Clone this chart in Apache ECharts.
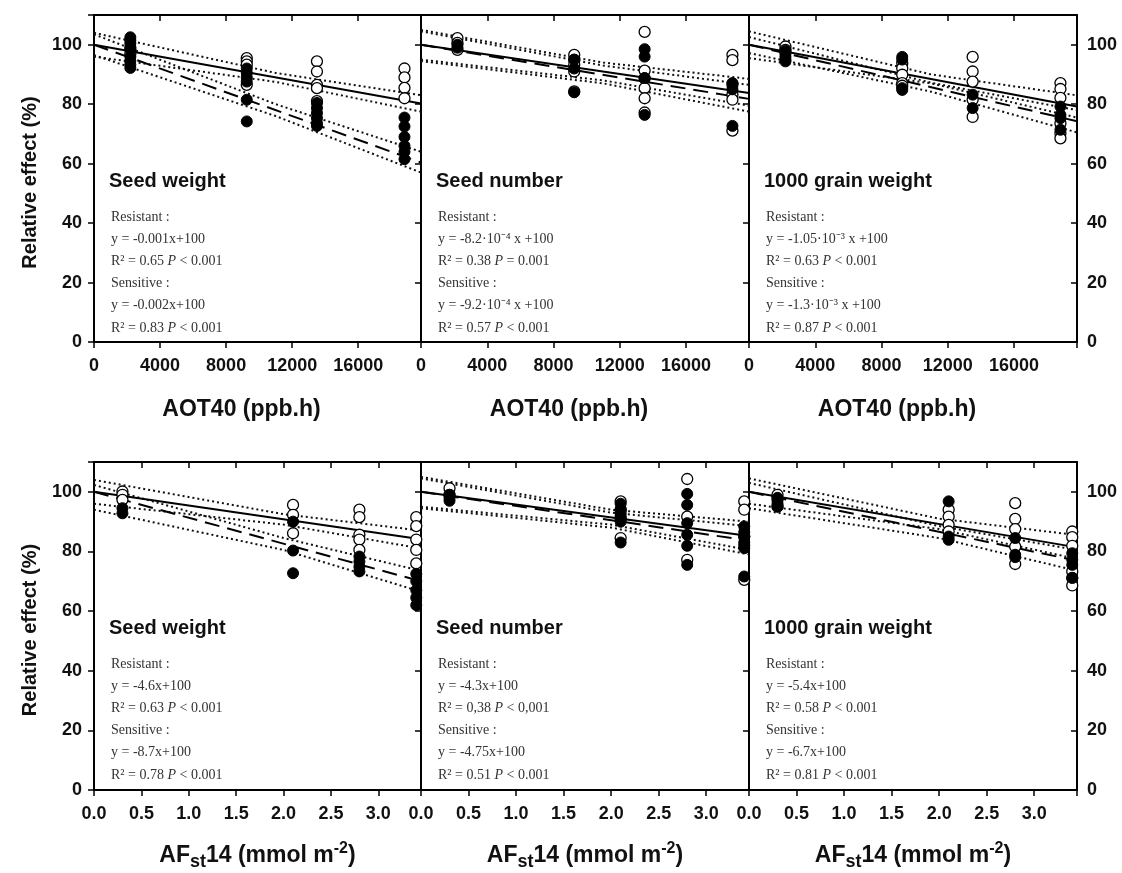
<!DOCTYPE html>
<html>
<head>
<meta charset="utf-8">
<script src="https://cdn.jsdelivr.net/npm/echarts@6/dist/echarts.min.js"></script>
<style>
  html, body { margin: 0; padding: 0; background: #fff; }
  #c { width: 1122px; height: 873px; }
</style>
</head>
<body>
<div id="c"></div>
<script>
// ---- Exposure levels (x positions of the four treatments) ----
const aotLevels = [2200, 9250, 13500, 18800];
const afstLevels = [0.3, 2.1, 2.8, 3.4];

// ---- Axis ticks ----
const aotTicks = [0, 4000, 8000, 12000, 16000];
const afstTicks = [0.0, 0.5, 1.0, 1.5, 2.0, 2.5, 3.0];
const yTicks = [0, 20, 40, 60, 80, 100];

// ---- Relative effect (%) by treatment level: Res = resistant (open), Sen = sensitive (filled) ----
const seedWeightAotRes = [[99, 97], [95.5, 94.4, 93.3, 86.5], [94.4, 91, 86.5, 85.4, 81], [92, 89, 85.5, 82]];
const seedWeightAotSen = [[102.5, 101.5, 100.5, 98.5, 96, 94.5, 93.3, 92.2], [92, 90.5, 89, 87.6, 81.5, 74.2], [80.4, 78.7, 77, 75.3, 73.6, 72.7], [75.5, 72.5, 69, 66, 64, 61.5]];
const seedNumberAotRes = [[102.2, 100.6, 98.3], [96.6, 94.9, 93.3, 91, 84.3], [104.3, 91.3, 88.7, 85.4, 82, 77.2], [96.6, 94.8, 86.5, 83.2, 81.5, 71.1]];
const seedNumberAotSen = [[100, 99], [95, 92, 84], [98.5, 96, 88.8, 76.4], [87.1, 85, 72.7]];
const grainWeightAotRes = [[99.4, 98.3, 97.2], [93.8, 92.1, 89.9, 87.1, 86.2], [95.9, 91, 87.6, 81.5, 75.7], [87.1, 85.1, 82.1, 73.6, 70.2, 68.5]];
const grainWeightAotSen = [[98, 96, 95, 94.4], [95.9, 95, 85.4, 84.8], [83.2, 78.7], [79.2, 76.4, 75.3, 71.4]];
const seedWeightAfRes = [[100.1, 99, 97.3], [95.6, 92.3, 86.1], [94, 91.5, 85.6, 84, 80.5], [91.5, 88.5, 84, 80.5, 76]];
const seedWeightAfSen = [[94.5, 92.8], [90, 80.3, 72.7], [78.3, 76.6, 74.9, 73.3], [72.5, 70, 67, 64.5, 62]];
const seedNumberAfRes = [[101.2, 99], [96.8, 94, 91, 84.5], [104.3, 91.7, 77.2], [96.8, 94, 85, 70.5]];
const seedNumberAfSen = [[99, 98, 97], [96, 94, 93, 92, 91, 90, 83], [99.3, 95.6, 89.5, 85.6, 81.9, 75.5], [88.4, 86.5, 85, 83, 82, 81.1, 71.6]];
const grainWeightAfRes = [[99, 97.3, 95.1], [94, 91.7, 88.9, 86.7], [96.2, 90.9, 87.5, 81.6, 75.8], [86.7, 84.8, 81.9, 73.3, 71.1, 68.6]];
const grainWeightAfSen = [[98, 96, 95], [96.8, 85, 83.9], [84.5, 78.9, 78.1], [79.4, 77.2, 75.5, 71.1]];

// ---- Regression slopes (y = slope * x + 100) ----
const resistantSlopes = [-0.001, -8.2e-4, -1.05e-3, -4.6, -4.3, -5.4];
const sensitiveSlopes = [-0.002, -9.2e-4, -1.3e-3, -8.7, -4.75, -6.7];

// ---- 95% confidence bands, at the band x positions below ----
const aotBandX = [0, 11000, 19800];
const afstBandX = [0, 2.0, 3.45];
const resistantBandUp = [[104, 90.5, 83], [105, 94, 88.5], [104.5, 90, 83], [104, 92.5, 87], [105, 94, 90], [104.5, 91, 85.5]];
const resistantBandLo = [[96, 87.5, 77.5], [95, 88, 79.5], [95.5, 87, 75.5], [96, 89, 81], [95, 89, 80.5], [96, 87.5, 77.5]];
const sensitiveBandUp = [[103.5, 80, 64], [104.5, 93, 86.5], [102.6, 87.2, 78], [102.3, 84.5, 73.5], [104.5, 93, 88.5], [103, 88.5, 80.5]];
const sensitiveBandLo = [[96.5, 76, 57], [94.5, 87, 77.5], [97.2, 84.2, 70.5], [94, 80.5, 66.5], [94.5, 88, 79], [94.5, 84.5, 73.5]];

// ---- Panel labels ----
const panelTitles = ['Seed weight', 'Seed number', '1000 grain weight', 'Seed weight', 'Seed number', '1000 grain weight'];
const panelNotes = [
  ['Resistant :', 'y = -0.001x+100', 'R² = 0.65 {i|P} < 0.001', 'Sensitive :', 'y = -0.002x+100', 'R² = 0.83 {i|P} < 0.001'],
  ['Resistant :', 'y = -8.2·10⁻⁴ x +100', 'R² = 0.38 {i|P} = 0.001', 'Sensitive :', 'y = -9.2·10⁻⁴ x +100', 'R² = 0.57 {i|P} < 0.001'],
  ['Resistant :', 'y = -1.05·10⁻³ x +100', 'R² = 0.63 {i|P} < 0.001', 'Sensitive :', 'y = -1.3·10⁻³ x +100', 'R² = 0.87 {i|P} < 0.001'],
  ['Resistant :', 'y = -4.6x+100', 'R² = 0.63 {i|P} < 0.001', 'Sensitive :', 'y = -8.7x+100', 'R² = 0.78 {i|P} < 0.001'],
  ['Resistant :', 'y = -4.3x+100', 'R² = 0,38 {i|P} < 0,001', 'Sensitive :', 'y = -4.75x+100', 'R² = 0.51 {i|P} < 0.001'],
  ['Resistant :', 'y = -5.4x+100', 'R² = 0.58 {i|P} < 0.001', 'Sensitive :', 'y = -6.7x+100', 'R² = 0.81 {i|P} < 0.001']
];
const yAxisTitle = 'Relative effect (%)';
const aotAxisTitle = 'AOT40 (ppb.h)';

// ---- Layout ----
const LEFTS = [94, 421, 749];
const WIDTHS = [327, 328, 328];
const TOPS = [15, 462];
const HEIGHTS = [327, 328];
const SANS = '"Liberation Sans", Arial, Helvetica, sans-serif';
const SERIF = '"Liberation Serif", "Times New Roman", serif';

const resGroups = [seedWeightAotRes, seedNumberAotRes, grainWeightAotRes, seedWeightAfRes, seedNumberAfRes, grainWeightAfRes];
const senGroups = [seedWeightAotSen, seedNumberAotSen, grainWeightAotSen, seedWeightAfSen, seedNumberAfSen, grainWeightAfSen];

const rowAxes = [
  { levels: aotLevels, max: 19800, interval: 4000, ticks: aotTicks, fmt: v => String(v), bandX: aotBandX },
  { levels: afstLevels, max: 3.45, interval: 0.5, ticks: afstTicks, fmt: v => v.toFixed(1), bandX: afstBandX }
];

const option = {
  animation: false,
  backgroundColor: '#fff',
  grid: [], xAxis: [], yAxis: [], series: [], graphic: []
};

const hasTick = (list, v) => list.some(t => Math.abs(t - v) < 1e-9);
const tickStyle = { color: '#000', width: 1.5 };
const lineAxis = { show: true, onZero: false, lineStyle: { color: '#000', width: 2 } };

for (let i = 0; i < 6; i++) {
  const row = Math.floor(i / 3), col = i % 3;
  const ax = rowAxes[row];
  option.grid.push({ left: LEFTS[col], top: TOPS[row], width: WIDTHS[col], height: HEIGHTS[row] });

  const xBase = { type: 'value', gridIndex: i, min: 0, max: ax.max, interval: ax.interval, splitLine: { show: false }, axisLine: lineAxis };
  option.xAxis.push(Object.assign({}, xBase, {
    position: 'bottom',
    axisTick: { show: true, inside: false, length: 6, lineStyle: tickStyle },
    axisLabel: {
      show: true, margin: 15, fontSize: 18, fontWeight: 'bold', fontFamily: SANS, color: '#111',
      showMaxLabel: true, showMinLabel: true,
      formatter: v => hasTick(ax.ticks, v) ? ax.fmt(v) : ''
    }
  }));
  option.xAxis.push(Object.assign({}, xBase, {
    position: 'top',
    axisTick: { show: true, inside: true, length: 6, lineStyle: tickStyle },
    axisLabel: { show: false }
  }));

  const yBase = { type: 'value', gridIndex: i, min: 0, max: 110, interval: 20, splitLine: { show: false }, axisLine: lineAxis };
  const yLabel = {
    margin: 12, fontSize: 18, fontWeight: 'bold', fontFamily: SANS, color: '#111',
    formatter: v => hasTick(yTicks, v) ? String(v) : ''
  };
  option.yAxis.push(Object.assign({}, yBase, {
    position: 'left',
    axisTick: { show: true, inside: false, length: 6, lineStyle: tickStyle },
    axisLabel: Object.assign({ show: col === 0 }, yLabel)
  }));
  option.yAxis.push(Object.assign({}, yBase, {
    position: 'right',
    axisTick: { show: true, inside: true, length: 6, lineStyle: tickStyle },
    axisLabel: Object.assign({ show: col === 2 }, yLabel, { margin: 10 })
  }));

  const xi = 2 * i, yi = 2 * i;
  const bandLine = (vals) => ({
    type: 'line', xAxisIndex: xi, yAxisIndex: yi, symbol: 'none', silent: true, z: 2,
    lineStyle: { color: '#111', width: 2, type: [2, 3] },
    data: ax.bandX.map((bx, k) => [bx, vals[k]])
  });
  option.series.push(bandLine(resistantBandUp[i]), bandLine(resistantBandLo[i]), bandLine(sensitiveBandUp[i]), bandLine(sensitiveBandLo[i]));

  option.series.push({
    type: 'line', xAxisIndex: xi, yAxisIndex: yi, symbol: 'none', silent: true, z: 3,
    lineStyle: { color: '#000', width: 2 },
    data: [[0, 100], [ax.max, 100 + resistantSlopes[i] * ax.max]]
  });
  option.series.push({
    type: 'line', xAxisIndex: xi, yAxisIndex: yi, symbol: 'none', silent: true, z: 3,
    lineStyle: { color: '#000', width: 2, type: [15, 8] },
    data: [[0, 100], [ax.max, 100 + sensitiveSlopes[i] * ax.max]]
  });

  const pts = groups => ax.levels.flatMap((lx, k) => groups[k].map(v => [lx, v]));
  option.series.push({
    type: 'scatter', xAxisIndex: xi, yAxisIndex: yi, symbol: 'circle', symbolSize: 11, z: 4,
    itemStyle: { color: '#fff', borderColor: '#000', borderWidth: 1.3, opacity: 1 },
    data: pts(resGroups[i])
  });
  option.series.push({
    type: 'scatter', xAxisIndex: xi, yAxisIndex: yi, symbol: 'circle', symbolSize: 11, z: 5,
    itemStyle: { color: '#000', borderColor: '#000', borderWidth: 1, opacity: 1 },
    data: pts(senGroups[i])
  });

  // panel title and regression notes
  const left = LEFTS[col], top = TOPS[row];
  option.graphic.push({
    type: 'text', x: left + 15, y: top + 166, silent: true,
    style: { text: panelTitles[i], font: 'bold 20px ' + SANS, fill: '#111', textVerticalAlign: 'middle' }
  });
  panelNotes[i].forEach((line, k) => {
    option.graphic.push({
      type: 'text', x: left + 17, y: top + 202 + k * 22.2, silent: true,
      style: {
        text: '{n|' + line.replace(/\{i\|P\}/, '}{i|P}{n|') + '}',
        textVerticalAlign: 'middle', fill: '#333',
        rich: {
          n: { fontFamily: SERIF, fontSize: 14, fill: '#333', color: '#333' },
          i: { fontFamily: SERIF, fontSize: 14, fontStyle: 'italic', fill: '#333', color: '#333' }
        }
      }
    });
  });
}

// y-axis titles
[TOPS[0] + HEIGHTS[0] / 2 + 4, TOPS[1] + HEIGHTS[1] / 2 + 4].forEach(cy => {
  option.graphic.push({
    type: 'text', x: 30, y: cy, rotation: Math.PI / 2, silent: true,
    style: { text: yAxisTitle, font: 'bold 20px ' + SANS, fill: '#111', textAlign: 'center', textVerticalAlign: 'middle' }
  });
});

// x-axis titles
for (let col = 0; col < 3; col++) {
  const cx = LEFTS[col] + WIDTHS[col] / 2;
  option.graphic.push({
    type: 'text', x: cx - 16, y: 410, silent: true,
    style: { text: aotAxisTitle, font: 'bold 23px ' + SANS, fill: '#111', textAlign: 'center', textVerticalAlign: 'middle' }
  });
  option.graphic.push({
    type: 'text', x: cx, y: 856, silent: true,
    style: {
      text: '{a|AF}{s|st}{a|14 (mmol m}{p|-2}{a|)}',
      textAlign: 'center', textVerticalAlign: 'middle',
      rich: {
        a: { fontFamily: SANS, fontWeight: 'bold', fontSize: 23, lineHeight: 30, verticalAlign: 'middle', fill: '#111', color: '#111' },
        s: { fontFamily: SANS, fontWeight: 'bold', fontSize: 18, lineHeight: 18, verticalAlign: 'bottom', fill: '#111', color: '#111' },
        p: { fontFamily: SANS, fontWeight: 'bold', fontSize: 16, lineHeight: 18, verticalAlign: 'top', fill: '#111', color: '#111' }
      }
    }
  });
}

const chart = echarts.init(document.getElementById('c'), null, { renderer: 'canvas' });
chart.setOption(option);
</script>
</body>
</html>
